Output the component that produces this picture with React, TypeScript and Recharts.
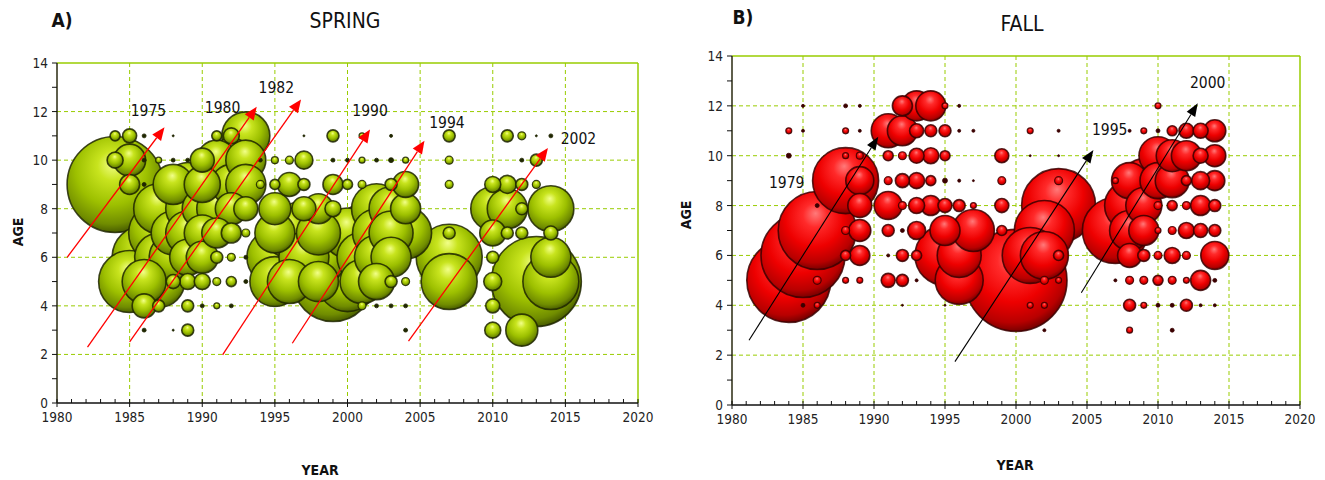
import React from "react";
import {
  ScatterChart,
  Scatter,
  XAxis,
  YAxis,
  ZAxis,
  CartesianGrid,
  ReferenceLine,
  ReferenceDot,
} from "recharts";

// [year, age, abundance index] - bubble area is proportional to the index
type Pt = [number, number, number];

const spring1984to1994: Pt[] = [
  [1984, 9, 100], [1984, 10, 2.78], [1984, 11, 1.09],
  [1985, 11, 2.13], [1985, 10, 11.1], [1985, 9, 4.34], [1985, 5, 41.7],
  [1986, 11, 0.17], [1986, 10, 0.17], [1986, 9, 0.17], [1986, 6, 44.4], [1986, 5, 21], [1986, 4, 6.25], [1986, 3, 0.17],
  [1987, 11, 0.04], [1987, 10, 0.39], [1987, 8, 27.1], [1987, 7, 39.1], [1987, 6, 25], [1987, 5, 29.3], [1987, 4, 1.56],
  [1988, 11, 0.04], [1988, 10, 0.17], [1988, 9, 17.4], [1988, 8, 31.6], [1988, 7, 21], [1988, 6, 25], [1988, 5, 2.13], [1988, 3, 0.04],
  [1989, 10, 0.17], [1989, 9, 21], [1989, 8, 21], [1989, 7, 21], [1989, 6, 14.1], [1989, 5, 2.78], [1989, 4, 1.56], [1989, 3, 1.56],
  [1990, 10, 6.25], [1990, 9, 14.1], [1990, 8, 17.4], [1990, 7, 14.1], [1990, 6, 11.1], [1990, 5, 2.78], [1990, 4, 0.17],
  [1991, 11, 1.09], [1991, 10, 17.4], [1991, 9, 25], [1991, 8, 17.4], [1991, 7, 9.77], [1991, 6, 1.56], [1991, 5, 0.69], [1991, 4, 0.39],
  [1992, 11, 2.78], [1992, 10, 21], [1992, 9, 17.4], [1992, 8, 11.1], [1992, 7, 4.34], [1992, 6, 0.69], [1992, 5, 1.09], [1992, 4, 0.17],
  [1993, 11, 25], [1993, 10, 17.4], [1993, 9, 17.4], [1993, 8, 6.25], [1993, 7, 0.69], [1993, 6, 0.17], [1993, 5, 0.17],
  [1994, 10, 0.17], [1994, 9, 0.69],
];

const spring1995to2004: Pt[] = [
  [1995, 10, 0.53], [1995, 9, 1.09], [1995, 8, 11.1], [1995, 7, 17.4], [1995, 6, 34], [1995, 5, 27.1],
  [1996, 10, 0.69], [1996, 9, 6.25], [1996, 7, 27.1], [1996, 6, 39.1], [1996, 5, 21],
  [1997, 11, 0.04], [1997, 10, 3.52], [1997, 9, 1.56], [1997, 8, 6.25], [1997, 7, 44.4], [1997, 6, 27.1],
  [1998, 8, 9.77], [1998, 7, 21], [1998, 6, 34], [1998, 5, 17.4],
  [1999, 11, 1.56], [1999, 10, 0.17], [1999, 9, 4.34], [1999, 8, 2.78], [1999, 6, 39.1], [1999, 5, 69.4],
  [2000, 10, 0.17], [2000, 9, 1.09], [2000, 7, 27.1], [2000, 6, 91.8], [2000, 5, 39.1],
  [2001, 11, 0.39], [2001, 10, 0.39], [2001, 9, 0.69], [2001, 7, 34], [2001, 6, 27.1], [2001, 5, 21], [2001, 4, 0.69],
  [2002, 10, 0.17], [2002, 8, 27.1], [2002, 7, 25], [2002, 6, 21], [2002, 5, 14.1], [2002, 4, 0.17],
  [2003, 11, 0.1], [2003, 10, 0.27], [2003, 9, 1.56], [2003, 8, 21], [2003, 7, 21], [2003, 6, 17.4], [2003, 5, 1.56], [2003, 4, 0.17],
  [2004, 10, 0.39], [2004, 9, 7.33], [2004, 8, 9.77], [2004, 7, 29.3], [2004, 5, 0.69], [2004, 4, 0.17], [2004, 3, 0.17],
];

const spring2007to2014: Pt[] = [
  [2007, 11, 1.56], [2007, 10, 0.69], [2007, 9, 0.69], [2007, 7, 1.56], [2007, 6, 47.3], [2007, 5, 34],
  [2010, 9, 2.78], [2010, 8, 21], [2010, 7, 7.33], [2010, 6, 1.56], [2010, 5, 3.52], [2010, 4, 2.13], [2010, 3, 2.78],
  [2011, 11, 1.56], [2011, 9, 3.52], [2011, 8, 17.4], [2011, 7, 1.56],
  [2012, 11, 0.69], [2012, 10, 0.17], [2012, 9, 1.56], [2012, 8, 1.56], [2012, 7, 1.56], [2012, 3, 11.1],
  [2013, 11, 0.04], [2013, 10, 1.56], [2013, 9, 0.69], [2013, 5, 87.9],
  [2014, 11, 0.17], [2014, 8, 23], [2014, 7, 2.13], [2014, 6, 17.4], [2014, 5, 34],
];

const fall1984to1994: Pt[] = [
  [1984, 11, 0.39], [1984, 10, 0.27], [1984, 5, 76.6],
  [1985, 12, 0.1], [1985, 11, 0.1], [1985, 6, 76.6], [1985, 4, 0.17],
  [1986, 8, 0.17], [1986, 7, 66], [1986, 5, 0.69], [1986, 4, 0.39],
  [1988, 12, 0.17], [1988, 11, 0.39], [1988, 10, 0.39], [1988, 9, 47.3], [1988, 7, 0.69], [1988, 6, 1.09], [1988, 5, 0.39],
  [1989, 12, 0.1], [1989, 11, 0.1], [1989, 10, 0.53], [1989, 9, 8.51], [1989, 8, 6.25], [1989, 7, 5.25], [1989, 6, 4.34], [1989, 5, 0.39],
  [1991, 11, 12.5], [1991, 10, 1.09], [1991, 9, 0.69], [1991, 8, 8.51], [1991, 7, 1.56], [1991, 6, 0.1], [1991, 5, 2.13],
  [1992, 12, 4.34], [1992, 11, 9.77], [1992, 10, 0.69], [1992, 9, 2.13], [1992, 8, 0.69], [1992, 7, 0.17], [1992, 6, 1.56], [1992, 5, 1.56], [1992, 4, 0.04],
  [1993, 12, 9.77], [1993, 11, 2.13], [1993, 10, 2.44], [1993, 9, 2.78], [1993, 8, 2.78], [1993, 7, 3.52], [1993, 6, 1.09], [1993, 5, 0.1],
  [1994, 12, 9.77], [1994, 11, 1.56], [1994, 10, 2.78], [1994, 9, 1.09], [1994, 8, 4.34],
];

const fall1995to2003: Pt[] = [
  [1995, 12, 0.39], [1995, 11, 1.56], [1995, 10, 1.09], [1995, 9, 0.27], [1995, 8, 2.13], [1995, 7, 9.77], [1995, 6, 39.1], [1995, 4, 0.04],
  [1996, 12, 0.1], [1996, 11, 0.1], [1996, 9, 0.1], [1996, 8, 1.56], [1996, 6, 21], [1996, 5, 25],
  [1997, 11, 0.1], [1997, 9, 0.04], [1997, 8, 0.39], [1997, 7, 19.1],
  [1999, 10, 2.13], [1999, 9, 0.69], [1999, 8, 2.13], [1999, 7, 1.09],
  [2000, 5, 112.9],
  [2001, 11, 0.39], [2001, 10, 0.04], [2001, 6, 34], [2001, 4, 0.39],
  [2002, 7, 39.1], [2002, 6, 25], [2002, 5, 0.69], [2002, 4, 0.39], [2002, 3, 0.1],
  [2003, 11, 0.1], [2003, 10, 0.04], [2003, 9, 0.69], [2003, 8, 59.4], [2003, 6, 1.09], [2003, 5, 0.39],
];

const fall2007to2014: Pt[] = [
  [2007, 9, 0.39], [2007, 7, 47.3], [2007, 5, 0.1],
  [2008, 11, 0.1], [2008, 9, 14.1], [2008, 8, 27.1], [2008, 7, 17.4], [2008, 6, 6.25], [2008, 5, 0.69], [2008, 4, 1.56], [2008, 3, 0.39],
  [2009, 11, 0.39], [2009, 9, 21], [2009, 8, 14.1], [2009, 7, 9.77], [2009, 6, 1.56], [2009, 5, 0.69], [2009, 4, 0.39],
  [2010, 12, 0.39], [2010, 11, 0.17], [2010, 10, 15.7], [2010, 9, 14.1], [2010, 8, 0.69], [2010, 7, 0.39], [2010, 6, 0.69], [2010, 5, 1.09], [2010, 4, 0.17],
  [2011, 11, 1.09], [2011, 10, 11.1], [2011, 9, 12.5], [2011, 8, 1.09], [2011, 7, 0.69], [2011, 6, 2.78], [2011, 5, 0.69], [2011, 4, 0.17], [2011, 3, 0.17],
  [2012, 11, 2.44], [2012, 10, 9.77], [2012, 9, 1.09], [2012, 8, 0.69], [2012, 7, 2.78], [2012, 6, 0.69], [2012, 5, 0.39], [2012, 4, 1.56],
  [2013, 11, 2.44], [2013, 10, 2.44], [2013, 9, 3.52], [2013, 8, 4.34], [2013, 7, 2.13], [2013, 5, 4.34], [2013, 4, 0.1],
  [2014, 11, 5.25], [2014, 10, 5.25], [2014, 9, 4.34], [2014, 8, 1.56], [2014, 7, 1.56], [2014, 6, 8.51], [2014, 5, 0.17], [2014, 4, 0.1],
];

// year-class arrows: [fromYear, fromAge, toYear, toAge], label position [year, age]
const springArrows = [
  { label: "1975", seg: [1980.7, 6.0, 1987.4, 11.35], at: [1986.3, 12.05] },
  { label: "1980", seg: [1982.1, 2.3, 1993.75, 12.2], at: [1991.4, 12.2] },
  { label: "1982", seg: [1985.0, 2.52, 1996.8, 12.5], at: [1995.1, 13.0] },
  { label: "1990", seg: [1991.4, 1.98, 2001.55, 11.26], at: [2001.55, 12.06] },
  { label: "1994", seg: [1996.2, 2.46, 2005.3, 10.8], at: [2006.85, 11.56] },
  { label: "2002", seg: [2004.2, 2.55, 2013.8, 10.5], at: [2015.9, 10.9] },
];

const fallArrows = [
  { label: "1979", seg: [1981.2, 2.6, 1990.3, 10.76], at: [1983.85, 8.96] },
  { label: "1995", seg: [1995.7, 1.74, 2005.45, 10.23], at: [2006.6, 11.07] },
  { label: "2000", seg: [2004.6, 4.5, 2012.8, 12.1], at: [2013.5, 12.97] },
];

const majorYears = [1980, 1985, 1990, 1995, 2000, 2005, 2010, 2015, 2020];
const ageLabels = [0, 2, 4, 6, 8, 10, 12, 14];
const yearTicks = Array.from({ length: 41 }, (_, i) => 1980 + i);
const ageTicks = Array.from({ length: 15 }, (_, i) => i);

const FONT = "'Liberation Sans Narrow', 'DejaVu Sans Condensed', 'Arial Narrow', sans-serif";
const GRID = "#99cc00";

const toRows = (pts: Pt[]) =>
  pts.map(([year, age, size]) => ({ year, age, size })).sort((a, b) => b.size - a.size);

const ball = (gradId: string, edge: string) => (props: any) => {
  const { cx, cy } = props;
  const r = props.width ? props.width / 2 : Math.sqrt((props.size || 0) / Math.PI);
  if (!(r > 0) || cx == null) return <g />;
  // the tiniest bubbles read as dark dots in the original
  if (r < 2.6) {
    return <circle cx={cx} cy={cy} r={Math.max(r, 1)} fill={edge} stroke={edge} strokeWidth={0.8} />;
  }
  return (
    <circle
      cx={cx}
      cy={cy}
      r={r}
      fill={`url(#${gradId})`}
      stroke={edge}
      strokeWidth={r < 5 ? 1.2 : 1.6}
      strokeOpacity={0.85}
    />
  );
};

const noMark = () => <g />;

// drawn as the "line" of a two-point scatter so it sits above the bubbles
const arrowLine = (color: string, width: number, headLen: number, headHalf: number) => (props: any) => {
  const pts = props.points || [];
  if (pts.length < 2) return <g />;
  const { x: x1, y: y1 } = pts[0];
  const { x: x2, y: y2 } = pts[1];
  const a = Math.atan2(y2 - y1, x2 - x1);
  const c = Math.cos(a);
  const s = Math.sin(a);
  const bx = x2 - headLen * c;
  const by = y2 - headLen * s;
  return (
    <g>
      <line x1={x1} y1={y1} x2={bx} y2={by} stroke={color} strokeWidth={width} />
      <polygon
        points={`${x2},${y2} ${bx + headHalf * s},${by - headHalf * c} ${bx - headHalf * s},${by + headHalf * c}`}
        fill={color}
      />
    </g>
  );
};

const XTick = (props: any) => {
  const { x, y, payload } = props;
  const major = majorYears.includes(payload.value);
  return (
    <g>
      <line x1={x} x2={x} y1={y - 4} y2={major ? y + 4 : y} stroke="#111" strokeWidth={1} />
      {major && (
        <text x={x} y={y + 19} textAnchor="middle" fontSize={13.5} fill="#222" fontFamily={FONT}>
          {payload.value}
        </text>
      )}
    </g>
  );
};

const YTick = (props: any) => {
  const { x, y, payload } = props;
  const major = ageLabels.includes(payload.value);
  return (
    <g>
      <line x1={x - 5} x2={x} y1={y} y2={y} stroke="#111" strokeWidth={1} />
      {major && (
        <text x={x - 9} y={y + 5} textAnchor="end" fontSize={13.5} fill="#222" fontFamily={FONT}>
          {payload.value}
        </text>
      )}
    </g>
  );
};

type PanelProps = {
  width: number;
  margin: { top: number; right: number; bottom: number; left: number };
  series: Pt[][];
  gradId: string;
  edge: string;
  arrows: { label: string; seg: number[]; at: number[] }[];
  arrowColor: string;
  arrowWidth: number;
  head: [number, number];
};

const Panel = ({ width, margin, series, gradId, edge, arrows, arrowColor, arrowWidth, head }: PanelProps) => {
  const rows = toRows(([] as Pt[]).concat(...series));
  return (
    <ScatterChart width={width} height={480} margin={margin}>
      <CartesianGrid
        stroke={GRID}
        strokeDasharray="4 3"
        strokeWidth={1}
        verticalValues={[1985, 1990, 1995, 2000, 2005, 2010, 2015]}
        horizontalValues={[2, 4, 6, 8, 10, 12]}
      />
      <XAxis
        type="number"
        dataKey="year"
        domain={[1980, 2020]}
        ticks={yearTicks}
        interval={0}
        tickSize={0}
        tickMargin={0}
        tickLine={false}
        tick={<XTick />}
        axisLine={{ stroke: "#111", strokeWidth: 1.5 }}
      />
      <YAxis
        type="number"
        dataKey="age"
        domain={[0, 14]}
        ticks={ageTicks}
        interval={0}
        width={30}
        tickSize={0}
        tickMargin={0}
        tickLine={false}
        tick={<YTick />}
        axisLine={{ stroke: "#2a2a10", strokeWidth: 1.5 }}
      />
      <ZAxis type="number" dataKey="size" domain={[0, 120]} range={[0, 8686]} />
      <ReferenceLine y={14} stroke={GRID} strokeWidth={1.5} />
      <ReferenceLine x={2020} stroke={GRID} strokeWidth={1.5} />
      <Scatter data={rows} shape={ball(gradId, edge)} isAnimationActive={false} />
      {arrows.map((a) => (
        <Scatter
          key={"l" + a.label}
          data={[
            { year: a.seg[0], age: a.seg[1] },
            { year: a.seg[2], age: a.seg[3] },
          ]}
          shape={noMark}
          line={arrowLine(arrowColor, arrowWidth, head[0], head[1])}
          lineType="joint"
          isAnimationActive={false}
        />
      ))}
      {arrows.map((a) => (
        <ReferenceDot
          key={"t" + a.label}
          x={a.at[0]}
          y={a.at[1]}
          r={0}
          ifOverflow="visible"
          shape={(p: any) => (
            <text x={p.cx} y={p.cy + 6} textAnchor="middle" fontSize={15.5} fill="#111" fontFamily={FONT}>
              {a.label}
            </text>
          )}
        />
      ))}
    </ScatterChart>
  );
};

const label = (text: string, x: number, y: number, size: number, bold: boolean, rotate = false) => (
  <div
    style={{
      position: "absolute",
      left: x,
      top: y,
      transform: `translate(-50%, -50%)${rotate ? " rotate(-90deg)" : ""}`,
      fontFamily: FONT,
      fontSize: size,
      fontWeight: bold ? 700 : 400,
      color: "#111",
      lineHeight: 1,
      whiteSpace: "nowrap",
    }}
  >
    {text}
  </div>
);

export default function App() {
  return (
    <div style={{ position: "absolute", left: 0, top: 0, width: 1325, height: 480, background: "#fff" }}>
      <svg width={0} height={0} style={{ position: "absolute" }}>
        <defs>
          <radialGradient id="ballGreen" cx="45%" cy="38%" r="62%" fx="48%" fy="28%">
            <stop offset="0%" stopColor="#f2ff8a" />
            <stop offset="25%" stopColor="#c8e41e" />
            <stop offset="60%" stopColor="#9dc000" />
            <stop offset="88%" stopColor="#708c00" />
            <stop offset="100%" stopColor="#4a5e00" />
          </radialGradient>
          <radialGradient id="ballRed" cx="45%" cy="38%" r="62%" fx="48%" fy="28%">
            <stop offset="0%" stopColor="#ff7a7a" />
            <stop offset="25%" stopColor="#ff2a2a" />
            <stop offset="60%" stopColor="#ee0000" />
            <stop offset="88%" stopColor="#b80000" />
            <stop offset="100%" stopColor="#7a0000" />
          </radialGradient>
        </defs>
      </svg>

      <div style={{ position: "absolute", left: 0, top: 0 }}>
        <Panel
          width={660}
          margin={{ top: 63, right: 22, bottom: 47, left: 27 }}
          series={[spring1984to1994, spring1995to2004, spring2007to2014]}
          gradId="ballGreen"
          edge="#1f2600"
          arrows={springArrows}
          arrowColor="#ff0000"
          arrowWidth={1.3}
          head={[13, 5.5]}
        />
      </div>
      <div style={{ position: "absolute", left: 660, top: 0 }}>
        <Panel
          width={665}
          margin={{ top: 56, right: 25, bottom: 45, left: 42 }}
          series={[fall1984to1994, fall1995to2003, fall2007to2014]}
          gradId="ballRed"
          edge="#3a0000"
          arrows={fallArrows}
          arrowColor="#000000"
          arrowWidth={1.1}
          head={[13, 5]}
        />
      </div>

      {label("A)", 62, 20, 19, true)}
      {label("SPRING", 345, 21, 21, false)}
      {label("AGE", 18, 232, 14, true, true)}
      {label("YEAR", 320, 470, 14, true)}

      {label("B)", 743, 17, 19, true)}
      {label("FALL", 1022, 24, 21, false)}
      {label("AGE", 686, 215, 14, true, true)}
      {label("YEAR", 1015, 465, 14, true)}
    </div>
  );
}
